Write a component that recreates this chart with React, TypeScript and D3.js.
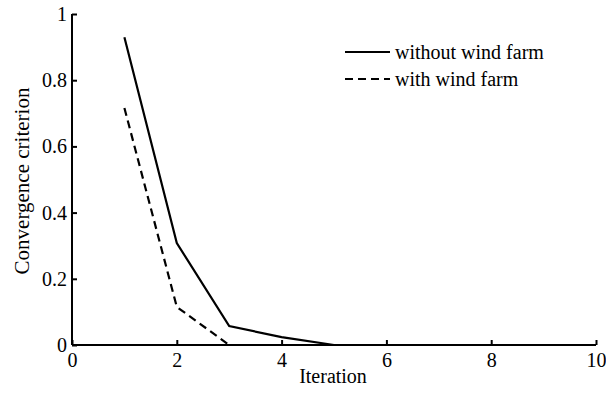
import React, { useEffect, useRef } from "react";
import * as d3 from "d3";

// iteracion y criterio de convergencia
const iterations = [1, 2, 3, 4, 5, 6, 7, 8, 9, 10];
const withoutWind = [0.93, 0.308, 0.057, 0.024, 0, 0, 0, 0, 0, 0];
const withWind = [0.716, 0.115, 0, 0, 0, 0, 0, 0, 0, 0];
const xTicks = [0, 2, 4, 6, 8, 10];
const yTicks = [0, 0.2, 0.4, 0.6, 0.8, 1];
const seriesNames = ["without wind farm", "with wind farm"];

const FONT = "'Liberation Serif', 'DejaVu Serif', serif";

const App = () => {
  const ref = useRef<SVGSVGElement>(null);
  const width = 606;
  const height = 398;

  useEffect(() => {
    const svg = d3.select(ref.current);
    svg.selectAll("*").remove();

    const x = d3.scaleLinear().domain([0, 10]).range([72, 596]);
    const y = d3.scaleLinear().domain([0, 1]).range([345, 14]);

    // lineas
    const line = d3
      .line<number>()
      .x((_, i) => x(iterations[i]))
      .y((d) => y(d));

    svg
      .append("path")
      .datum(withWind)
      .attr("d", line)
      .attr("fill", "none")
      .attr("stroke", "#000")
      .attr("stroke-width", 2.2)
      .attr("stroke-dasharray", "8,5");

    svg
      .append("path")
      .datum(withoutWind)
      .attr("d", line)
      .attr("fill", "none")
      .attr("stroke", "#000")
      .attr("stroke-width", 2.2);

    // ejes, ticks hacia adentro
    const xAxis = svg.append("g").attr("transform", `translate(0,${y(0)})`);
    xAxis.call(
      d3.axisBottom(x).tickValues(xTicks).tickSize(-5).tickPadding(8).tickFormat(d3.format("d"))
    );
    const yAxis = svg.append("g").attr("transform", `translate(${x(0)},0)`);
    yAxis.call(
      d3.axisLeft(y).tickValues(yTicks).tickSize(-5).tickPadding(5).tickFormat((d) => String(d))
    );
    [xAxis, yAxis].forEach((g) => {
      g.attr("font-family", null).attr("font-size", null);
      g.select(".domain").attr("stroke", "#000").attr("stroke-width", 2);
      g.selectAll(".tick line").attr("stroke", "#000").attr("stroke-width", 2);
      g.selectAll(".tick text")
        .attr("fill", "#000")
        .style("font-family", FONT)
        .style("font-size", "20px");
    });
    xAxis.select(".domain").attr("d", `M${x(0)},0H${x(10)}`);
    yAxis.select(".domain").attr("d", `M0,${y(0)}V${y(1)}`);

    // titulos de ejes
    svg
      .append("text")
      .attr("x", 333)
      .attr("y", 383)
      .attr("text-anchor", "middle")
      .style("font-family", FONT)
      .style("font-size", "20px")
      .text("Iteration");
    svg
      .append("text")
      .attr("transform", "translate(29,181) rotate(-90)")
      .attr("text-anchor", "middle")
      .style("font-family", FONT)
      .style("font-size", "21px")
      .text("Convergence criterion");

    // leyenda
    const legend = svg.append("g");
    seriesNames.forEach((name, i) => {
      const ly = 52 + i * 27;
      legend
        .append("line")
        .attr("x1", 345)
        .attr("x2", 390)
        .attr("y1", ly)
        .attr("y2", ly)
        .attr("stroke", "#000")
        .attr("stroke-width", 2.2)
        .attr("stroke-dasharray", i === 1 ? "8,5" : null);
      legend
        .append("text")
        .attr("x", 395)
        .attr("y", ly + 7)
        .style("font-family", FONT)
        .style("font-size", "20px")
        .text(name);
    });
  }, []);

  return (
    <svg
      ref={ref}
      width={width}
      height={height}
      style={{ position: "absolute", left: 0, top: 0, background: "#fff", fontFamily: FONT }}
    />
  );
};

export default App;
